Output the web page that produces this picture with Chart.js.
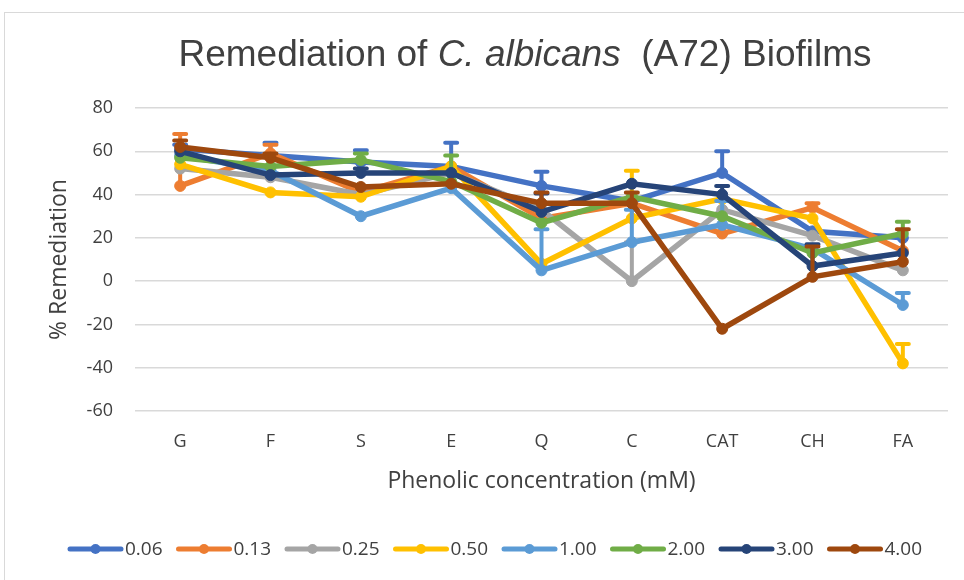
<!DOCTYPE html>
<html>
<head>
<meta charset="utf-8">
<script src="https://cdn.jsdelivr.net/npm/chart.js"></script>
<style>
  html, body { margin: 0; padding: 0; background: #fff; overflow: hidden; }
  #frame { position: absolute; left: 4px; top: 12px; width: 1000px; height: 600px; border: 1px solid #d9d9d9; }
  #chart { position: absolute; left: 0; top: 0; }
</style>
</head>
<body>
<div id="frame"></div>
<canvas id="chart" width="964" height="580"></canvas>
<script>
// Categories and series
const categories = ['G', 'F', 'S', 'E', 'Q', 'C', 'CAT', 'CH', 'FA'];
const seriesNames = ['0.06', '0.13', '0.25', '0.50', '1.00', '2.00', '3.00', '4.00'];
const seriesColors = ['#4472C4', '#ED7D31', '#A5A5A5', '#FFC000', '#5B9BD5', '#70AD47', '#264478', '#9E480E'];

const c006 = [61, 58, 55, 53, 44, 37, 50, 23, 20];
const c013 = [44, 59, 41, 53, 29, 36, 22, 34, 14];
const c025 = [52, 48, 40, 50, 33, 0, 33, 21, 5];
const c050 = [54, 41, 39, 53, 8, 29, 38, 29, -38];
const c100 = [58, 51, 30, 43, 5, 18, 26, 15, -11];
const c200 = [57, 53, 56, 46, 27, 39, 30, 13, 22];
const c300 = [60, 49, 50, 50, 32, 45, 40, 7, 13];
const c400 = [62, 57, 43.5, 45, 36, 36, -22, 2, 9];

// Plus error bars (0 = none visible)
const e006 = [2, 6, 5.5, 11, 6.5, 0, 10, 0, 0];
const e013 = [24, 4, 0, 0, 0, 0, 0, 2, 0];
const e025 = [0, 0, 0, 0, 0, 18, 0, 0, 0];
const e050 = [0, 0, 0, 0, 0, 22, 0, 0, 9];
const e100 = [0, 0, 0, 0, 19, 15, 11, 0, 5.5];
const e200 = [0, 0, 3, 12, 0, 0, 0, 0, 5.5];
const e300 = [0, 0, 2, 0, 8.5, 0, 4, 10, 0];
const e400 = [3, 2, 0, 0, 5, 5, 0, 14, 15];

const yTicks = [-60, -40, -20, 0, 20, 40, 60, 80];

const titleParts = [
  { text: 'Remediation of ', italic: false },
  { text: 'C. albicans', italic: true },
  { text: '  (A72) Biofilms', italic: false }
];

const allValues = [c006, c013, c025, c050, c100, c200, c300, c400];
const allErrors = [e006, e013, e025, e050, e100, e200, e300, e400];

const datasets = seriesNames.map((name, i) => ({
  label: name,
  data: allValues[i],
  errPlus: allErrors[i],
  borderColor: seriesColors[i],
  backgroundColor: seriesColors[i],
  pointBackgroundColor: seriesColors[i],
  pointBorderColor: seriesColors[i],
  borderWidth: 5.5,
  pointRadius: 5.5,
  pointBorderWidth: 1,
  tension: 0,
  order: seriesNames.length - i
}));

// Draw the plus error bars right after each series
const errorBars = {
  id: 'errorBars',
  afterDatasetDraw(chart, args) {
    const ds = chart.data.datasets[args.index];
    const y = chart.scales.y;
    const ctx = chart.ctx;
    ctx.save();
    ctx.strokeStyle = ds.borderColor;
    ctx.lineWidth = 4;
    ctx.lineCap = 'round';
    args.meta.data.forEach((pt, i) => {
      const e = ds.errPlus[i];
      if (!e) return;
      const top = y.getPixelForValue(ds.data[i] + e);
      ctx.beginPath();
      ctx.moveTo(pt.x, pt.y);
      ctx.lineTo(pt.x, top);
      ctx.moveTo(pt.x - 6, top);
      ctx.lineTo(pt.x + 6, top);
      ctx.stroke();
    });
    ctx.restore();
  }
};

// Title with italic species name, plus the bottom legend
const extras = {
  id: 'extras',
  afterDraw(chart) {
    const ctx = chart.ctx;
    ctx.save();
    ctx.fillStyle = '#404040';
    ctx.textBaseline = 'middle';
    const fontFor = p => (p.italic ? 'italic ' : '') + '37px "Liberation Sans", Arial, sans-serif';
    let total = 0;
    titleParts.forEach(p => { ctx.font = fontFor(p); total += ctx.measureText(p.text).width; });
    let x = 525 - total / 2;
    ctx.textAlign = 'left';
    titleParts.forEach(p => {
      ctx.font = fontFor(p);
      ctx.fillText(p.text, x, 56);
      x += ctx.measureText(p.text).width;
    });

    // legend
    const ly = 549;
    ctx.font = '19px "Open Sans", sans-serif';
    chart.data.datasets.forEach((ds, i) => {
      const lx = 68 + i * 108.5;
      ctx.strokeStyle = ds.borderColor;
      ctx.lineWidth = 5;
      ctx.lineCap = 'round';
      ctx.beginPath();
      ctx.moveTo(lx + 2, ly);
      ctx.lineTo(lx + 53, ly);
      ctx.stroke();
      ctx.fillStyle = ds.borderColor;
      ctx.beginPath();
      ctx.arc(lx + 27.5, ly, 5, 0, Math.PI * 2);
      ctx.fill();
      ctx.fillStyle = '#404040';
      ctx.fillText(ds.label, lx + 57, ly + 1);
    });
    ctx.restore();
  }
};

new Chart(document.getElementById('chart'), {
  type: 'line',
  data: { labels: categories, datasets: datasets },
  options: {
    responsive: false,
    animation: false,
    devicePixelRatio: 1,
    layout: { padding: { top: 108, right: 16, bottom: 79, left: 0 } },
    plugins: {
      legend: { display: false },
      title: { display: false },
      tooltip: { enabled: false }
    },
    scales: {
      x: {
        offset: true,
        grid: { display: false, drawTicks: false },
        border: { display: false },
        ticks: { color: '#404040', font: { family: 'Open Sans', size: 18 }, padding: 20, maxRotation: 0 },
        title: { display: true, text: 'Phenolic concentration (mM)', color: '#404040',
                 font: { family: 'Open Sans', size: 23 }, padding: { top: 0, bottom: 6 } },
        afterFit(scale) { scale.height = 90; }
      },
      y: {
        min: -60,
        max: 80,
        afterBuildTicks(scale) { scale.ticks = yTicks.map(v => ({ value: v })); },
        grid: { color: '#d9d9d9', lineWidth: 1.5, drawTicks: false },
        border: { display: false },
        ticks: { color: '#404040', font: { family: 'Open Sans', size: 18 }, padding: 22 },
        title: { display: true, text: '% Remediation', color: '#404040',
                 font: { family: 'Open Sans', size: 23 }, padding: { top: 46, bottom: 0 } },
        afterFit(scale) { scale.width = 135; }
      }
    }
  },
  plugins: [errorBars, extras]
});
</script>
</body>
</html>
